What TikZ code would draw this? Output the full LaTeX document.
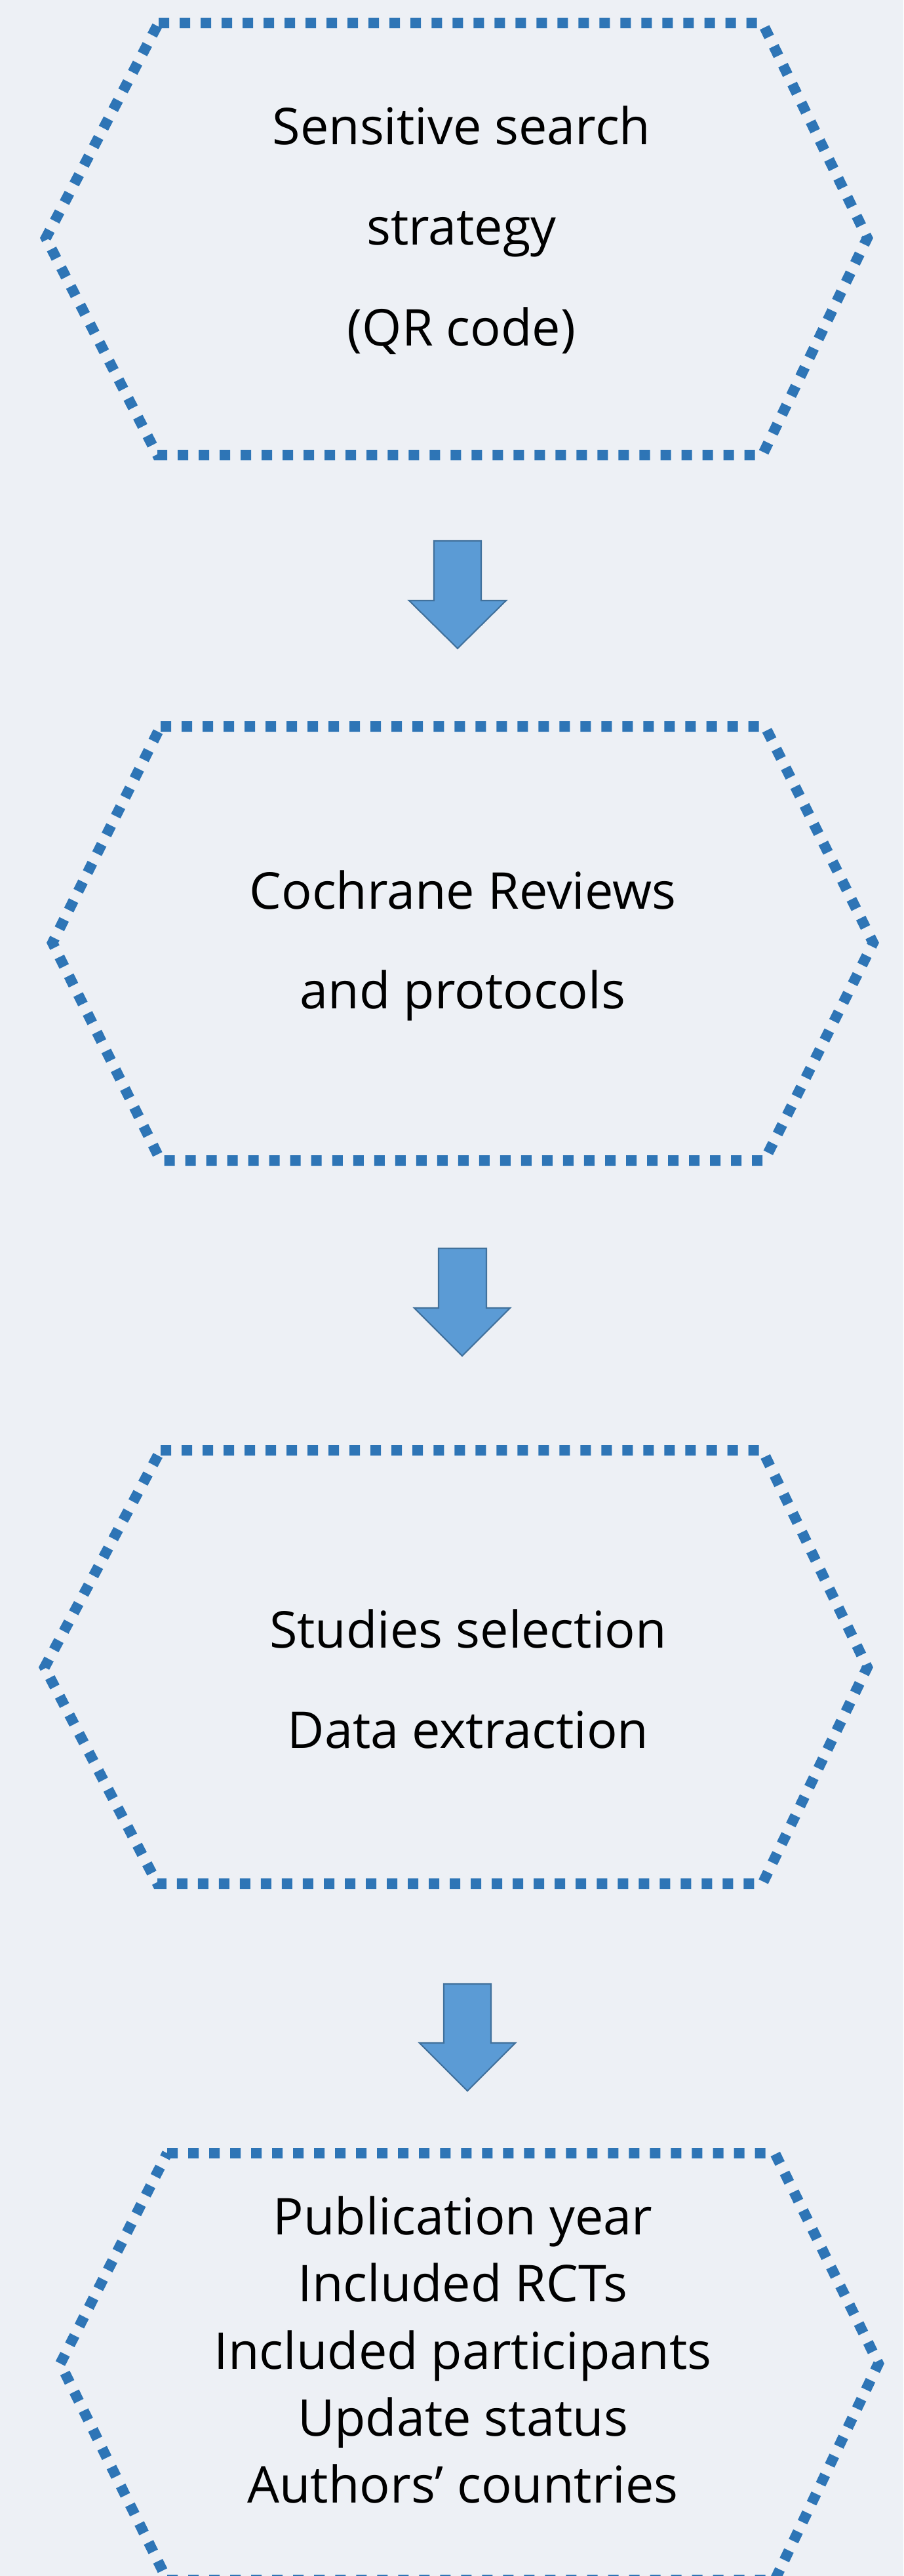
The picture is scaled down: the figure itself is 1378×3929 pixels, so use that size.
\documentclass[tikz,border=0pt]{standalone}
\usepackage{fontspec}
\setmainfont{Open Sans}
\definecolor{bgcol}{RGB}{237,240,245}
\definecolor{dotblue}{RGB}{46,117,182}
\definecolor{arrowfill}{RGB}{91,155,213}
\definecolor{arrowline}{RGB}{65,113,156}
\tikzstyle{hexline}=[draw=dotblue,line width=0.16cm,dash pattern=on 0.16cm off 0.16cm]
\tikzstyle{blockarrow}=[fill=arrowfill,draw=arrowline,line width=0.6pt]
\tikzstyle{txt}=[anchor=base,inner sep=0pt,font=\fontsize{22}{26}\selectfont]

\begin{document}
\begin{tikzpicture}[x=0.01cm,y=-0.01cm]
\useasboundingbox (0,0) rectangle (1378,3929);
\clip (0,0) rectangle (1378,3929);
\fill[bgcol] (0,0) rectangle (1378,3929);
% hexagons
\draw[hexline] (242,35) -- (1163,35) -- (1323,363) -- (1163,694) -- (240,694) -- (70,363) -- cycle;
\draw[hexline] (245,1108) -- (1167,1108) -- (1332,1438) -- (1166,1770) -- (245,1770) -- (80,1438) -- cycle;
\draw[hexline] (245,2212) -- (1163,2212) -- (1323,2543) -- (1163,2873) -- (240,2873) -- (68,2543) -- cycle;
\draw[hexline] (255,3284) -- (1182,3284) -- (1340,3605) -- (1182,3935) -- (255,3935) -- (92,3605) -- cycle;
% arrows
\filldraw[blockarrow] (662,825) -- (734,825) -- (734,916) -- (772,916) -- (698,989) -- (624,916) -- (662,916) -- cycle;
\filldraw[blockarrow] (669,1904) -- (742,1904) -- (742,1995) -- (778,1995) -- (705,2068) -- (632,1995) -- (669,1995) -- cycle;
\filldraw[blockarrow] (677,3026) -- (749,3026) -- (749,3116) -- (786,3116) -- (713,3189) -- (640,3116) -- (677,3116) -- cycle;
% texts
\node[txt] (t1a) at (704,220) {Sensitive search};
\node[txt] (t1b) at (704,373) {strategy};
\node[txt] (t1c) at (704,527) {(QR code)};
\node[txt] (t2a) at (706,1386) {Cochrane Reviews};
\node[txt] (t2b) at (706,1538) {and protocols};
\node[txt] (t3a) at (714,2513) {Studies selection};
\node[txt] (t3b) at (714,2666) {Data extraction};
\node[txt] (t4a) at (706,3408) {Publication year};
\node[txt] (t4b) at (706,3510) {Included RCTs};
\node[txt] (t4c) at (706,3613) {Included participants};
\node[txt] (t4d) at (706,3715) {Update status};
\node[txt] (t4e) at (706,3817) {Authors’ countries};
\end{tikzpicture}
\end{document}
